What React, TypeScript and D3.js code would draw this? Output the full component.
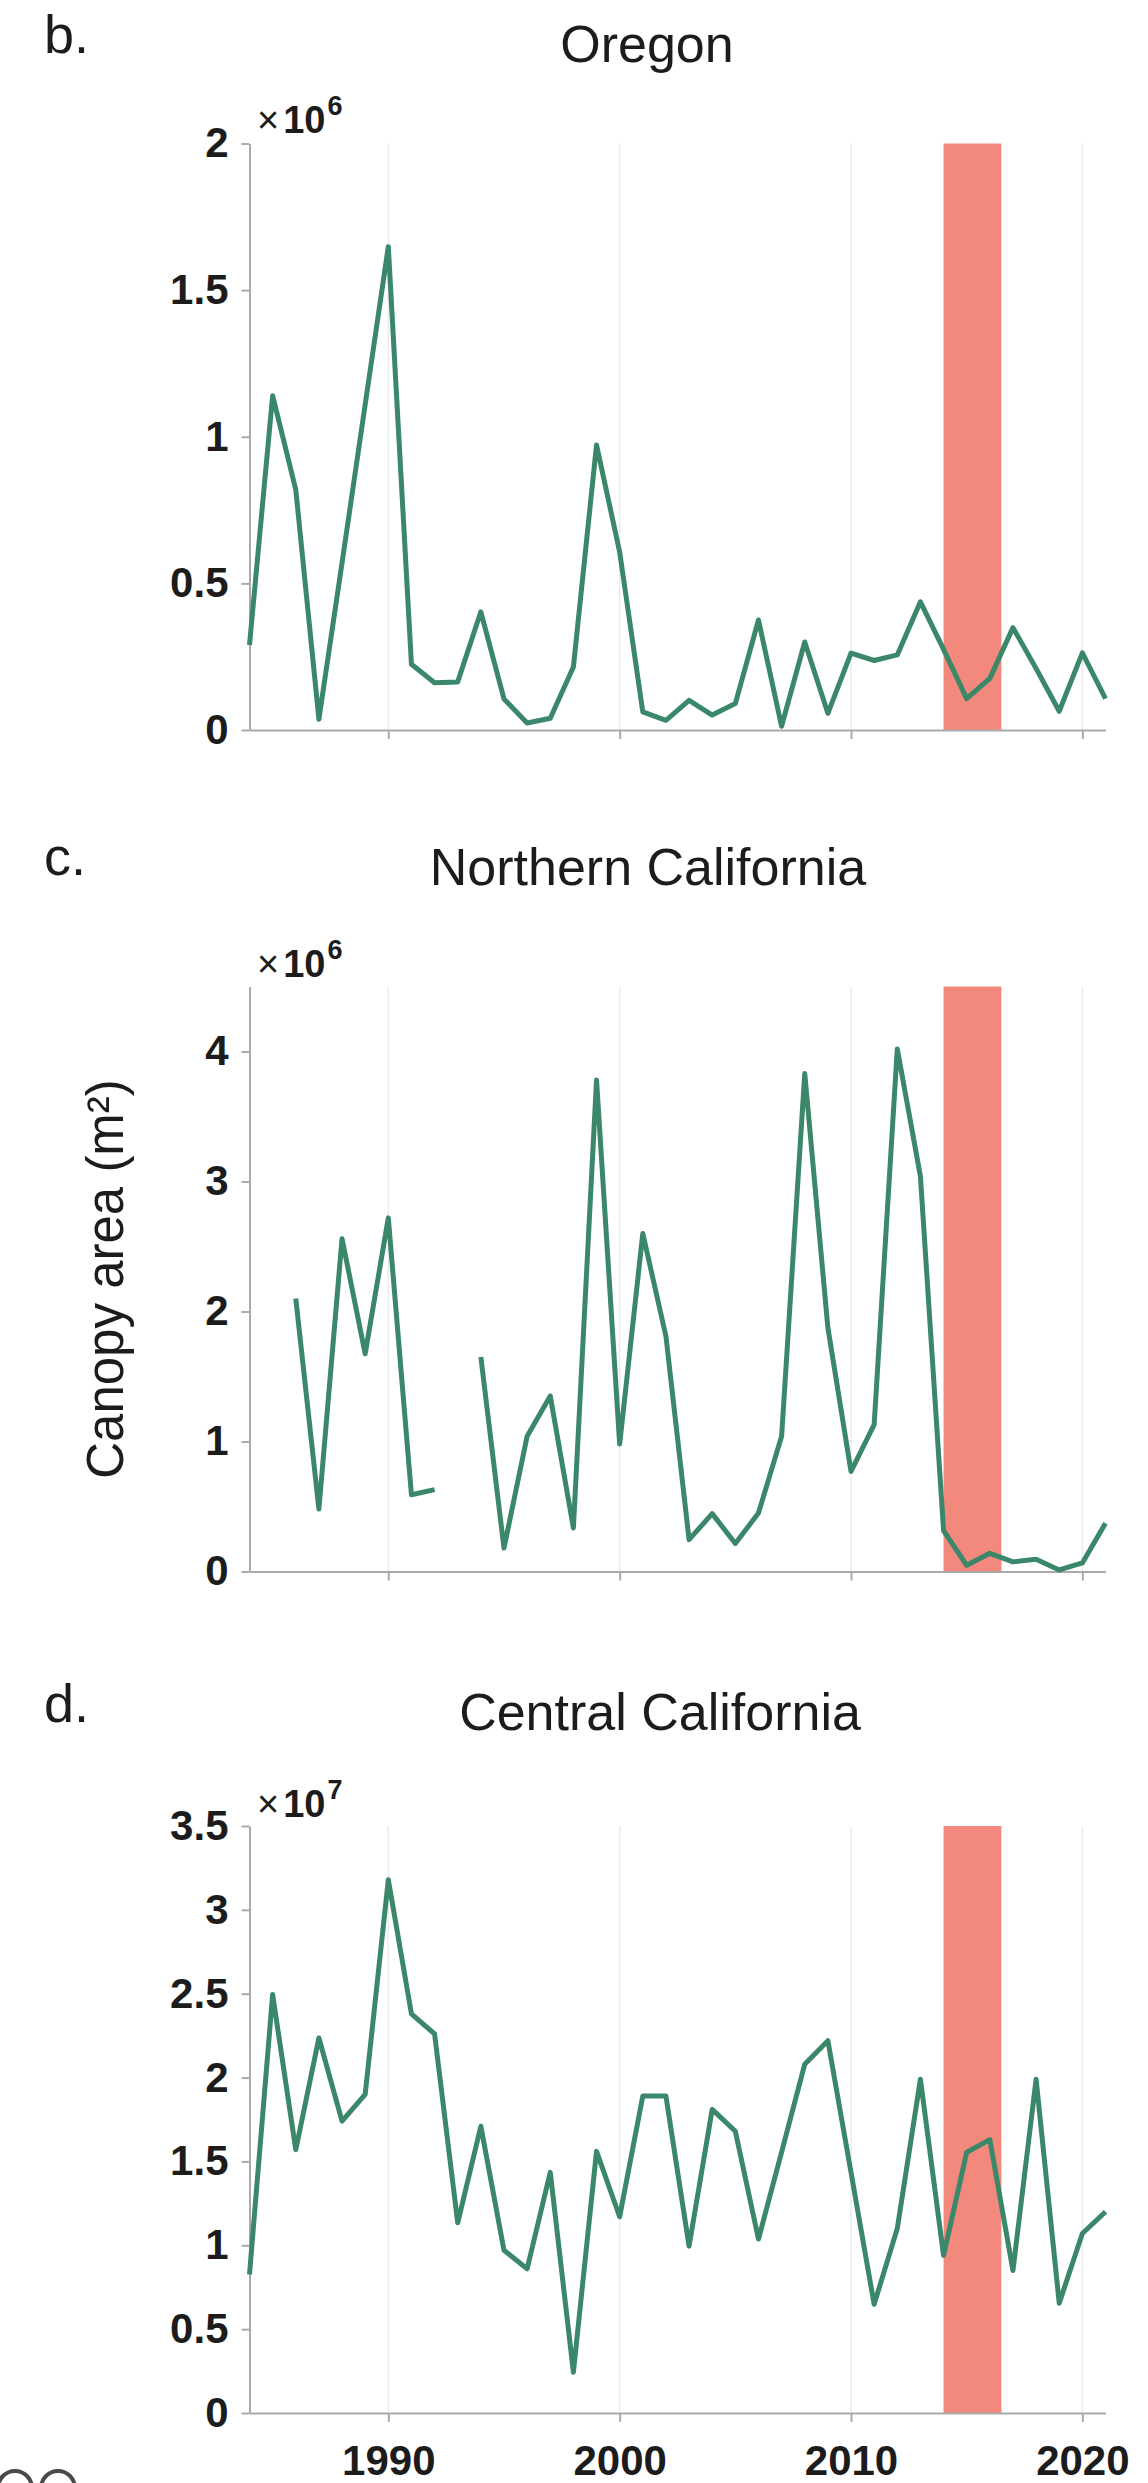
import React, { useEffect, useRef } from "react";
import * as d3 from "d3";

// years on the x axis
const years = [
  1984, 1985, 1986, 1987, 1988, 1989, 1990, 1991, 1992, 1993,
  1994, 1995, 1996, 1997, 1998, 1999, 2000, 2001, 2002, 2003,
  2004, 2005, 2006, 2007, 2008, 2009, 2010, 2011, 2012, 2013,
  2014, 2015, 2016, 2017, 2018, 2019, 2020, 2021,
];

// Oregon canopy area, x10^6 m^2
const oregonArea = [
  0.29, 1.14, 0.82, 0.037, 0.57, 1.11, 1.648, 0.224, 0.161, 0.164,
  0.403, 0.106, 0.024, 0.04, 0.215, 0.972, 0.607, 0.062, 0.033, 0.101,
  0.051, 0.09, 0.375, 0.013, 0.3, 0.057, 0.262, 0.237, 0.256, 0.437,
  0.275, 0.107, 0.176, 0.349, 0.21, 0.064, 0.263, 0.107,
];

// Northern California canopy area, x10^6 m^2 (null = no data)
const northCalArea = [
  null, null, 2.1, 0.48, 2.56, 1.675, 2.72, 0.59, 0.63, null,
  1.65, 0.18, 1.04, 1.35, 0.335, 3.78, 0.98, 2.6, 1.81, 0.245,
  0.445, 0.215, 0.45, 1.04, 3.83, 1.875, 0.77, 1.13, 4.02, 3.04,
  0.315, 0.048, 0.14, 0.074, 0.094, 0.012, 0.066, 0.372,
];

// Central California canopy area, x10^7 m^2
const centralCalArea = [
  0.826, 2.495, 1.57, 2.236, 1.74, 1.9, 3.18, 2.38, 2.26, 1.134,
  1.71, 0.97, 0.86, 1.435, 0.243, 1.56, 1.17, 1.89, 1.89, 0.995,
  1.81, 1.68, 1.037, 1.555, 2.08, 2.22, 1.435, 0.648, 1.1, 1.99,
  0.94, 1.555, 1.63, 0.85, 1.99, 0.655, 1.07, 1.2,
];

const oregonTicks = [0, 0.5, 1, 1.5, 2];
const northCalTicks = [0, 1, 2, 3, 4];
const centralCalTicks = [0, 0.5, 1, 1.5, 2, 2.5, 3, 3.5];
const yearTicks = [1990, 2000, 2010, 2020];
const yearDomain = [1984, 2021];
const droughtSpan = [2014, 2016.5];

const panelLetters = ["b.", "c.", "d."];
const panelTitles = ["Oregon", "Northern California", "Central California"];
const exponents = ["6", "6", "7"];
const yMaxes = [2, 4.5, 3.5];

// pixel layout of each panel
const layout = [
  { top: 143.5, bottom: 730, letterY: 53, titleX: 647, titleY: 62, expY: 133 },
  { top: 986.5, bottom: 1571.5, letterY: 875, titleX: 648, titleY: 885, expY: 977 },
  { top: 1826, bottom: 2413, letterY: 1722, titleX: 660, titleY: 1730, expY: 1817 },
];

const FONT = "'Liberation Sans', Arial, Helvetica, sans-serif";
const GREEN = "#3a8769";
const RED = "#f3887c";
const AXIS = "#aaaaaa";
const GRID = "#ececec";
const TEXT = "#1c1c1c";

const App = () => {
  const ref = useRef<SVGSVGElement>(null);

  useEffect(() => {
    const svg = d3.select(ref.current);
    svg.selectAll("*").remove();

    const x = d3.scaleLinear().domain(yearDomain).range([249.5, 1105.5]);
    const series = [oregonArea, northCalArea, centralCalArea];
    const tickSets = [oregonTicks, northCalTicks, centralCalTicks];

    series.forEach((values, i) => {
      const L = layout[i];
      const y = d3.scaleLinear().domain([0, yMaxes[i]]).range([L.bottom, L.top]);
      const g = svg.append("g").style("font-family", FONT);

      // vertical gridlines
      g.selectAll("line.grid")
        .data(yearTicks)
        .join("line")
        .attr("class", "grid")
        .attr("x1", (d) => x(d))
        .attr("x2", (d) => x(d))
        .attr("y1", L.top)
        .attr("y2", L.bottom)
        .attr("stroke", GRID)
        .attr("stroke-width", 1.5);

      // drought period bar
      g.append("rect")
        .attr("x", x(droughtSpan[0]))
        .attr("width", x(droughtSpan[1]) - x(droughtSpan[0]))
        .attr("y", L.top)
        .attr("height", L.bottom - L.top)
        .attr("fill", RED);

      // y axis
      const yAxis = g.append("g")
        .attr("transform", `translate(${x(yearDomain[0])},0)`)
        .call(
          d3.axisLeft(y)
            .tickValues(tickSets[i])
            .tickSize(8)
            .tickSizeOuter(0)
            .tickPadding(13)
            .tickFormat((d) => String(d))
        );

      // x axis (labels only on the last panel)
      const xAxis = g.append("g")
        .attr("transform", `translate(0,${L.bottom})`)
        .call(
          d3.axisBottom(x)
            .tickValues(yearTicks)
            .tickSize(9)
            .tickSizeOuter(0)
            .tickPadding(23)
            .tickFormat((d) => (i === 2 ? String(d) : ""))
        );

      [yAxis, xAxis].forEach((ax) => {
        ax.select(".domain").attr("stroke", AXIS).attr("stroke-width", 2);
        ax.selectAll(".tick line").attr("stroke", AXIS).attr("stroke-width", 2);
        ax.selectAll(".tick text")
          .attr("fill", TEXT)
          .style("font-family", FONT)
          .style("font-size", "42px")
          .style("font-weight", "bold");
      });

      // data line
      const line = d3.line<number | null>()
        .defined((d) => d !== null)
        .x((_, j) => x(years[j]))
        .y((d) => y(d as number));

      g.append("path")
        .datum(values)
        .attr("fill", "none")
        .attr("stroke", GREEN)
        .attr("stroke-width", 5)
        .attr("stroke-linejoin", "round")
        .attr("d", line);

      // exponent label
      const exp = g.append("text")
        .attr("x", 257)
        .attr("y", L.expY)
        .attr("fill", TEXT)
        .style("font-size", "38px");
      exp.append("tspan").text("×");
      exp.append("tspan").attr("dx", 4).style("font-weight", "bold").text("10");
      exp.append("tspan")
        .attr("dx", 2)
        .attr("dy", -18)
        .style("font-weight", "bold")
        .style("font-size", "27px")
        .text(exponents[i]);

      // panel letter
      g.append("text")
        .attr("x", 44)
        .attr("y", L.letterY)
        .attr("fill", TEXT)
        .style("font-size", "54px")
        .text(panelLetters[i]);

      // title
      g.append("text")
        .attr("x", L.titleX)
        .attr("y", L.titleY)
        .attr("text-anchor", "middle")
        .attr("fill", TEXT)
        .style("font-size", "52px")
        .text(panelTitles[i]);

      // shared y label on the middle panel
      if (i === 1) {
        g.append("text")
          .attr("transform", `translate(123,${(L.top + L.bottom) / 2}) rotate(-90)`)
          .attr("text-anchor", "middle")
          .attr("fill", TEXT)
          .style("font-size", "51px")
          .text("Canopy area (m²)");
      }
    });

    // cut-off rings at the bottom-left edge
    svg.append("g")
      .selectAll("circle")
      .data([15, 58])
      .join("circle")
      .attr("cx", (d) => d)
      .attr("cy", 2488)
      .attr("r", 17)
      .attr("fill", "none")
      .attr("stroke", "#4a4a4a")
      .attr("stroke-width", 4);
  }, []);

  return (
    <svg
      ref={ref}
      width={1148}
      height={2483}
      style={{ position: "absolute", left: 0, top: 0, background: "#fff" }}
    />
  );
};

export default App;
